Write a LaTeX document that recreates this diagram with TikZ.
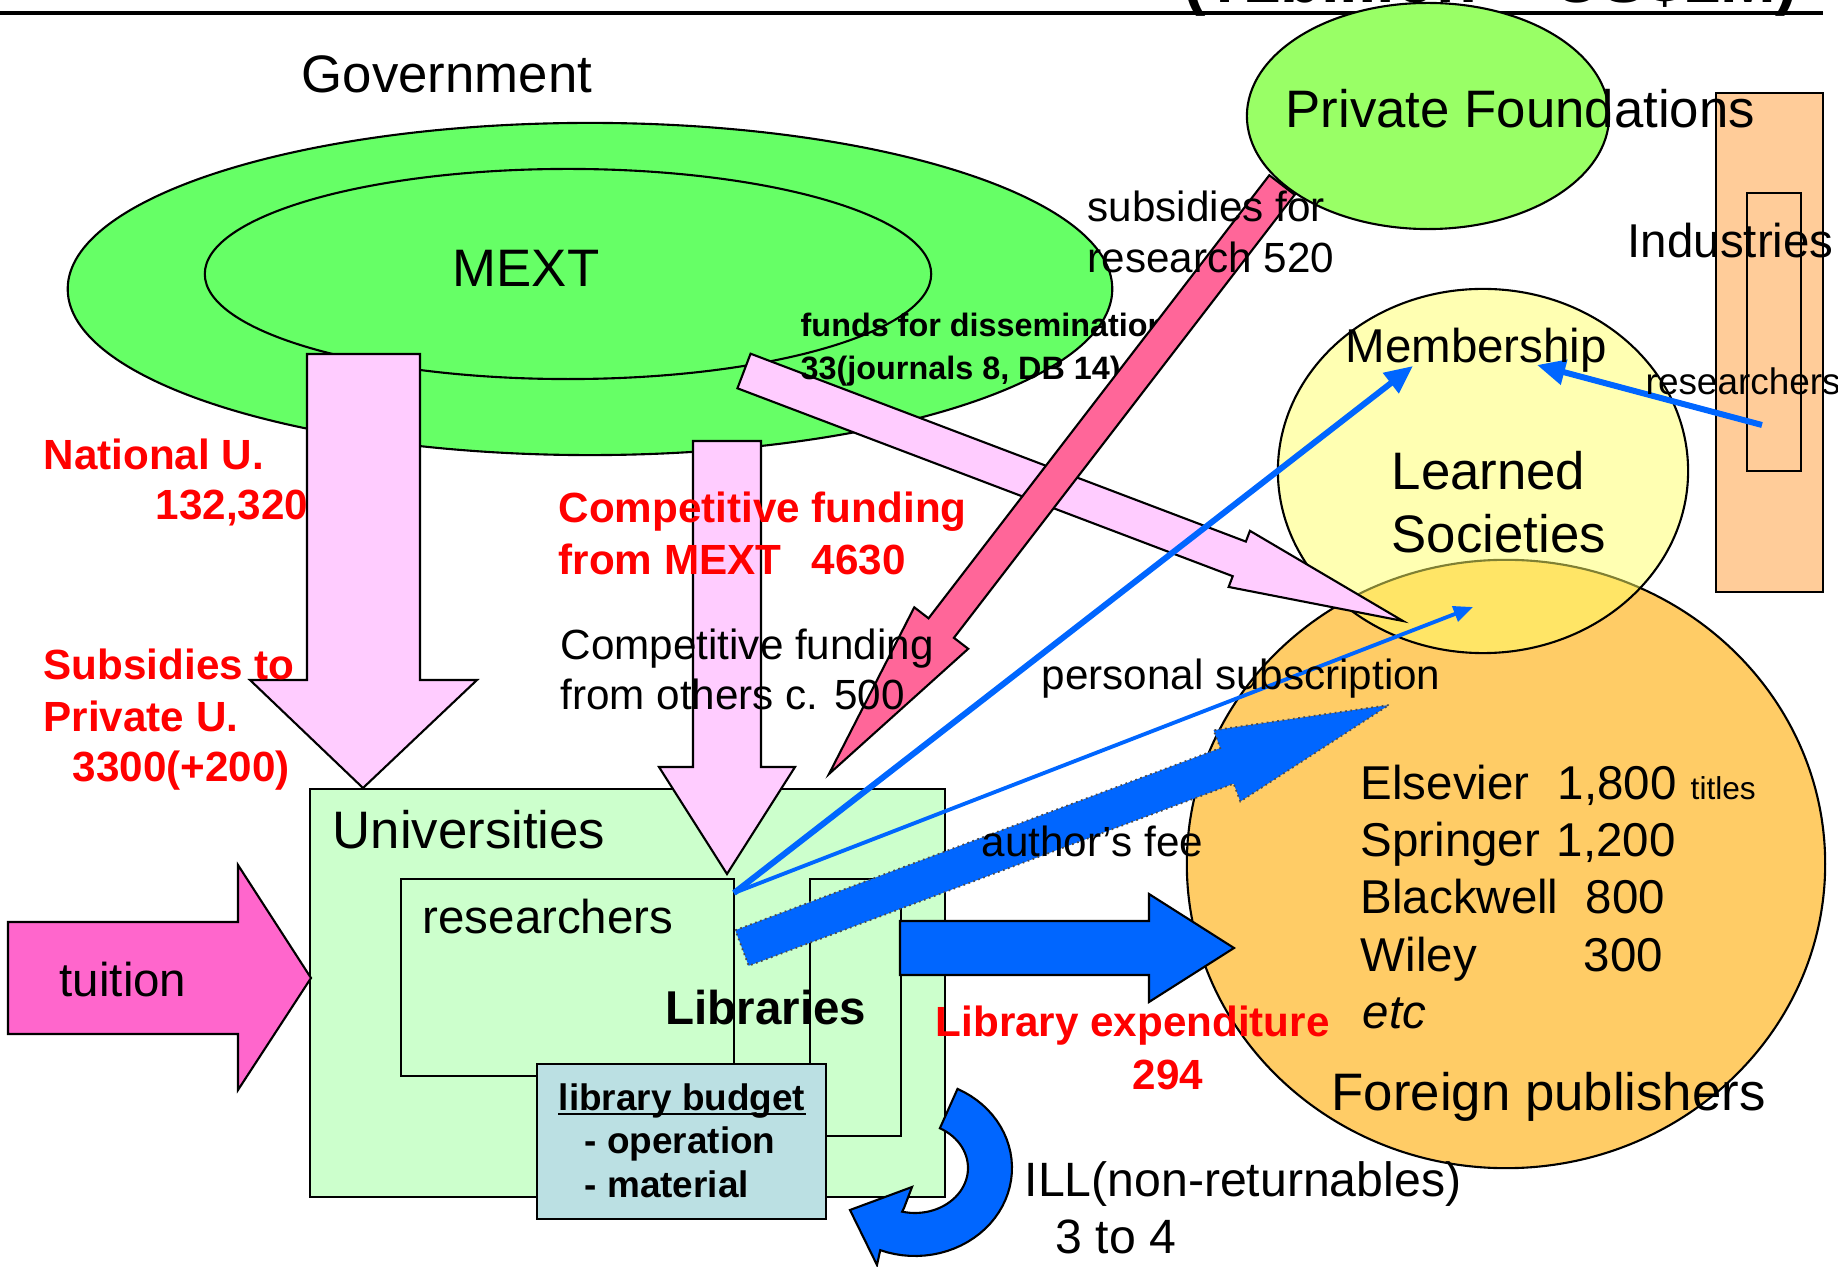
\documentclass[tikz,border=0pt]{standalone}
\usepackage{fontspec}
\setmainfont{Liberation Sans}
\usetikzlibrary{calc,arrows.meta,shapes.geometric}
\definecolor{govgreen}{HTML}{66FF66}
\definecolor{pfgreen}{HTML}{99FF66}
\definecolor{pinkA}{HTML}{FFCCFF}
\definecolor{redA}{HTML}{FF6699}
\definecolor{tuit}{HTML}{FF66CC}
\definecolor{uni}{HTML}{CCFFCC}
\definecolor{budget}{HTML}{BBE0E3}
\definecolor{blueA}{HTML}{0066FF}
\definecolor{lsyellow}{HTML}{FFFF66}
\definecolor{orangeFP}{HTML}{FFCC66}
\definecolor{peach}{HTML}{FFCC99}
\definecolor{redT}{HTML}{FF0000}
\newcommand\fsz[1]{\fontsize{#1pt}{#1pt}\selectfont}
\newcommand\blockarrow[6]{%
  \coordinate (baT) at (#2);
  \coordinate (baB) at ($(#3)!#6!(#2)$);
  \draw[#1] ($(baT)!#4!90:(baB)$) -- ($(baB)!#4!-90:(baT)$) -- ($(baB)!#5!-90:(baT)$) -- (#3)
    -- ($(baB)!#5!90:(baT)$) -- ($(baB)!#4!90:(baT)$) -- ($(baT)!#4!-90:(baB)$) -- cycle;
}
\tikzset{
  shp/.style={draw=black, line width=0.6pt},
  big/.style={inner sep=0pt, font=\fsz{15}},
  mid/.style={inner sep=0pt, font=\fsz{13.5}},
  sml/.style={inner sep=0pt, font=\fsz{12}},
  redlbl/.style={inner sep=0pt, font=\bfseries\fsz{12}, text=redT},
  thinblue/.style={draw=blueA, line cap=butt},
}
\begin{document}
\begin{tikzpicture}[x=0.01cm,y=-0.01cm]
\useasboundingbox (0,0) rectangle (1838,1267);
% ---- top header (clipped by page) ----
\node[anchor=base, inner sep=0pt, font=\bfseries\fsz{19}] (unit) at (1491,3) {(¥1billion = US\$1M)};
\coordinate (hl) at (0,13);
\coordinate (hr) at (1823,13);
\draw[line width=1.1pt] (hl) -- (hr);

% ---- Government / MEXT ----
\node[ellipse, shp, fill=govgreen, minimum width=10.44cm, minimum height=3.32cm, inner sep=0pt] (gov) at (590,289) {};
\node[ellipse, shp, fill=govgreen, minimum width=7.26cm, minimum height=2.10cm, inner sep=0pt] (mext) at (568,274) {};
\node[big, anchor=base] (govt) at (447,93) {Government};
\node[big, anchor=base] (mextt) at (526,287) {MEXT};

% ---- Private Foundations ----
\node[ellipse, shp, fill=pfgreen, minimum width=3.62cm, minimum height=2.26cm, inner sep=0pt] (pf) at (1428,116) {};

% ---- Industries ----
\node[shp, fill=peach, minimum width=1.07cm, minimum height=4.99cm, inner sep=0pt] (ind) at (1769.5,342.5) {};
\node[draw=black, line width=0.5pt, fill=peach, minimum width=0.54cm, minimum height=2.78cm, inner sep=0pt] (indr) at (1774,332) {};

% ---- Foreign publishers & Learned societies ----
\node[ellipse, shp, fill=orangeFP, minimum width=6.38cm, minimum height=6.08cm, inner sep=0pt] (fp) at (1506,864) {};
\fill[lsyellow, fill opacity=0.5] (1483,471) ellipse [x radius=2.05cm, y radius=1.82cm];
\node[ellipse, draw=black, line width=0.6pt, minimum width=4.10cm, minimum height=3.64cm, inner sep=0pt] (ls) at (1483,471) {};

% ---- Universities block ----
\node[shp, fill=uni, minimum width=6.35cm, minimum height=4.08cm, inner sep=0pt] (univ) at (627.5,993) {};
\node[shp, fill=uni, minimum width=3.33cm, minimum height=1.97cm, inner sep=0pt] (res) at (567.5,977.5) {};
\node[shp, fill=uni, minimum width=0.91cm, minimum height=2.57cm, inner sep=0pt] (lib) at (855.5,1007.5) {};
\node[shp, fill=budget, minimum width=2.89cm, minimum height=1.55cm, inner sep=0pt] (bud) at (681.5,1141.5) {};

% ---- pink arrows from MEXT ----
\coordinate (natTop) at (363,354);
\coordinate (natTip) at (363,788);
\draw[shp, fill=pinkA] (307,354) -- (420,354) -- (420,680) -- (477,680) -- (natTip) -- (250,680) -- (307,680) -- cycle;
\coordinate (cmpTop) at (727,441);
\coordinate (cmpTip) at (727,874);
\draw[shp, fill=pinkA] (693,441) -- (761,441) -- (761,767) -- (795,767) -- (cmpTip) -- (659,767) -- (693,767) -- cycle;

\coordinate (disT) at (744,371);
\coordinate (disP) at (1403,621);
\blockarrow{shp, fill=pinkA}{disT}{disP}{0.185cm}{0.30cm}{1.75cm}

% ---- tuition ----
\coordinate (tuiTip) at (311,978);
\draw[shp, fill=tuit] (8,922) -- (238,922) -- (238,865) -- (tuiTip) -- (238,1090) -- (238,1034) -- (8,1034) -- cycle;

% ---- texts under the red arrow ----
\node[inner sep=0pt, font=\bfseries\fsz{9.2}, anchor=base west] (fd1) at (800,337) {funds for dissemination};
\node[inner sep=0pt, font=\bfseries\fsz{9.2}, anchor=base west] (fd2) at (800,380) {33(journals 8, DB 14)};

% ---- red arrow from private foundations ----
\coordinate (pfT) at (1282,185);
\coordinate (pfP) at (829,774);
\blockarrow{shp, fill=redA}{pfT}{pfP}{0.16cm}{0.34cm}{1.84cm}

% ---- library expenditure arrow ----
\coordinate (leTip) at (1234,948);
\draw[shp, fill=blueA] (900,921) -- (1149,921) -- (1149,894) -- (leTip) -- (1149,1002) -- (1149,975) -- (900,975) -- cycle;

% ---- author's fee arrow ----
\coordinate (afT) at (742,948);
\coordinate (afP) at (1389,705);
\blockarrow{draw=black!70, densely dotted, line width=0.5pt, fill=blueA}{afT}{afP}{0.19cm}{0.38cm}{1.73cm}

% ---- thin blue arrows ----
\coordinate (rc) at (734,893);
\coordinate (memTip) at (1413,366);
\coordinate (ovTip) at (1473,607);
\coordinate (indSrc) at (1762,425);
\coordinate (memTip2) at (1537,365);
\draw[thinblue, line width=1.7pt, -{Triangle[length=8pt,width=7pt]}] (rc) -- (memTip);
\draw[thinblue, line width=1.1pt, -{Triangle[length=5.5pt,width=4.5pt]}] (rc) -- (ovTip);
\draw[thinblue, line width=1.7pt, -{Triangle[length=8pt,width=7pt]}] (indSrc) -- (memTip2);

% ---- ILL curved arrow ----
\draw[shp, fill=blueA] plot[domain=64:-111, samples=40] ({915+97*cos(\x)},{1168-88*sin(\x)})
  -- (877,1265) -- (850,1210) -- (912,1187) -- (904,1208)
  -- plot[domain=-104:62, samples=40] ({915+53*cos(\x)},{1168-45*sin(\x)}) -- cycle;

% ---- labels ----
\node[big, anchor=base west] (pft) at (1285,128) {Private Foundations};
\node[mid, anchor=base west] (indt) at (1627,258) {Industries};
\node[mid, anchor=base west] (memt) at (1345,363) {Membership};
\node[big, anchor=base west] (lst1) at (1391,490) {Learned};
\node[big, anchor=base west] (lst2) at (1391,553) {Societies};
\node[inner sep=0pt, font=\fsz{10.5}, anchor=base west] (indres) at (1645,395) {researchers};
\node[sml, anchor=base west] (sub1) at (1087,222) {subsidies for};
\node[sml, anchor=base west] (sub2) at (1087,273) {research 520};

\node[redlbl, anchor=base west] (nat1) at (43,470) {National U.};
\node[redlbl, anchor=base east] (nat2) at (309,520) {132,320};
\node[redlbl, anchor=base west] (pri1) at (43,680) {Subsidies to};
\node[redlbl, anchor=base west] (pri2) at (43,732) {Private U.};
\node[redlbl, anchor=base west] (pri3) at (72,782) {3300(+200)};
\node[redlbl, anchor=base west] (cm1) at (558,523) {Competitive funding};
\node[redlbl, anchor=base west] (cm2) at (558,575) {from MEXT};
\node[redlbl, anchor=base west] (cm3) at (811,575) {4630};
\node[sml, anchor=base west] (co1) at (560,660) {Competitive funding};
\node[sml, anchor=base west] (co2) at (560,710) {from others c. 500};
\node[sml, anchor=base west] (pst) at (1041,690) {personal subscription};
\node[sml, anchor=base west] (aft) at (981,857) {author’s fee};

\node[big, anchor=base west] (univt) at (332,849) {Universities};
\node[mid, anchor=base west] (rest) at (422,934) {researchers};
\node[inner sep=0pt, font=\bfseries\fsz{13.5}, anchor=base west] (libt) at (665,1025) {Libraries};
\node[inner sep=0pt, font=\bfseries\fsz{10.5}, anchor=base] (bud1) at (682,1110) {library budget};
\draw[line width=0.8pt] ($(bud1.base west)+(0,4)$) -- ($(bud1.base east)+(0,4)$);
\node[inner sep=0pt, font=\bfseries\fsz{10.5}, anchor=base west] (bud2) at (584,1153) {- operation};
\node[inner sep=0pt, font=\bfseries\fsz{10.5}, anchor=base west] (bud3) at (584,1198) {- material};
\node[mid, anchor=base west] (tuit) at (59,997) {tuition};

\node[redlbl, anchor=base west] (lex1) at (935,1037) {Library expenditure};
\node[redlbl, anchor=base] (lex2) at (1168,1090) {294};
\node[inner sep=0pt, font=\fsz{13.7}, anchor=base west] (ill1) at (1024,1197) {ILL(non-returnables)};
\node[inner sep=0pt, font=\fsz{13.7}, anchor=base west] (ill2) at (1055,1254) {3 to 4};

\node[mid, anchor=base west] (e1) at (1360,800) {Elsevier};
\node[mid, anchor=base west] (e1n) at (1557,800) {1,800};
\node[inner sep=0pt, font=\fsz{9}, anchor=base west] (e1t) at (1690,800) {titles};
\node[mid, anchor=base west] (e2) at (1360,857) {Springer};
\node[mid, anchor=base west] (e2n) at (1556,857) {1,200};
\node[mid, anchor=base west] (e3) at (1360,914) {Blackwell};
\node[mid, anchor=base west] (e3n) at (1585,914) {800};
\node[mid, anchor=base west] (e4) at (1360,972) {Wiley};
\node[mid, anchor=base west] (e4n) at (1583,972) {300};
\node[mid, anchor=base west, font=\itshape\fsz{13.5}] (e5) at (1362,1028) {etc};
\node[big, anchor=base west] (fpt) at (1331,1110) {Foreign publishers};
\end{tikzpicture}
\end{document}
